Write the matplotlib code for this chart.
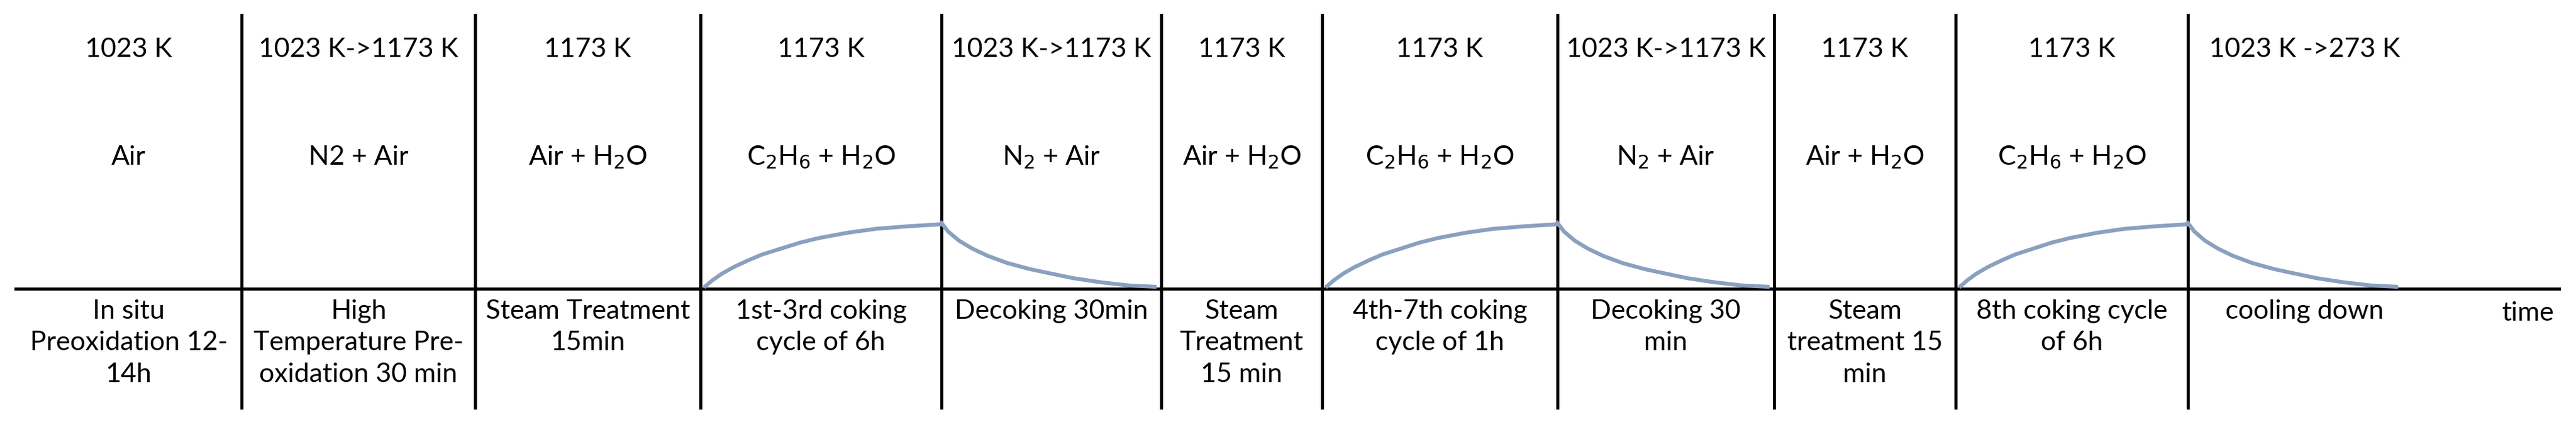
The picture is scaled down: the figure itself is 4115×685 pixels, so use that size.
import matplotlib
matplotlib.use("Agg")
import matplotlib.pyplot as plt
import numpy as np

# Layout (pixel coordinates of the reference)
dividers = [386, 759, 1119, 1504, 1855, 2112, 2488, 2834, 3124, 3495]
col_edges = [25] + dividers + [3868]
temps = ["1023 K", "1023 K->1173 K", "1173 K", "1173 K", "1023 K->1173 K", "1173 K",
         "1173 K", "1023 K->1173 K", "1173 K", "1173 K", "1023 K ->273 K"]
gases = ["Air", "N2 + Air", "Air + H$_2$O", "C$_2$H$_6$ + H$_2$O", "N$_2$ + Air", "Air + H$_2$O",
         "C$_2$H$_6$ + H$_2$O", "N$_2$ + Air", "Air + H$_2$O", "C$_2$H$_6$ + H$_2$O", ""]
steps = ["In situ\nPreoxidation 12-\n14h", "High\nTemperature Pre-\noxidation 30 min",
         "Steam Treatment\n15min", "1st-3rd coking\ncycle of 6h", "Decoking 30min",
         "Steam\nTreatment\n15 min", "4th-7th coking\ncycle of 1h", "Decoking 30\nmin",
         "Steam\ntreatment 15\nmin", "8th coking cycle\nof 6h", "cooling down"]

# curve shapes (normalized position t, normalized height h)
rise_t = [0.0, 0.03, 0.07, 0.12, 0.18, 0.24, 0.32, 0.40, 0.48, 0.60, 0.72, 0.86, 1.0]
rise_h = [0.04, 0.13, 0.23, 0.33, 0.43, 0.52, 0.61, 0.70, 0.77, 0.85, 0.91, 0.95, 0.98]
decay_t = [0.0, 0.03, 0.08, 0.14, 0.21, 0.30, 0.40, 0.47, 0.60, 0.72, 0.85, 0.97]
decay_h = [1.0, 0.87, 0.73, 0.61, 0.50, 0.39, 0.30, 0.25, 0.16, 0.10, 0.05, 0.03]
rise_cols = [3, 6, 9]
decay_cols = [4, 7, 10]
cool_end = 3838

W, H = 4115, 685
fig = plt.figure(figsize=(W / 100, H / 100), dpi=100)
ax = fig.add_axes([0, 0, 1, 1])
ax.set_xlim(0, W)
ax.set_ylim(H, 0)
ax.axis("off")

base_y, top_y = 461, 356
ax.plot([25, 4088], [base_y, base_y], color="black", lw=3.5)
for x in dividers:
    ax.plot([x, x], [24, 651], color="black", lw=3.5)

fnt = dict(family="Lato", fontsize=31, color="black", ha="center")
for i in range(11):
    cx = (col_edges[i] + col_edges[i + 1]) / 2
    ax.text(cx, 79, temps[i], va="center", **fnt)
    if gases[i]:
        ax.text(cx, 251, gases[i], va="center", **fnt)
    ax.text(cx, 478, steps[i], va="top", linespacing=1.4, **fnt)
ax.text(4080, 500, "time", va="center", family="Lato", fontsize=31, ha="right")

color = "#8aa0bf"
for c in rise_cols:
    x0, x1 = col_edges[c], col_edges[c + 1]
    tt = np.array(rise_t); hh = np.array(rise_h)
    ax.plot(x0 + 8 + tt * (x1 - x0 - 8), base_y - hh * (base_y - top_y), color=color, lw=4.5)
for c in decay_cols:
    x0 = col_edges[c]
    x1 = cool_end if c == 10 else col_edges[c + 1]
    tt = np.array(decay_t); hh = np.array(decay_h)
    ax.plot(x0 + tt * (x1 - x0), base_y - hh * (base_y - top_y), color=color, lw=4.5)

fig.savefig("out.png", dpi=100)
